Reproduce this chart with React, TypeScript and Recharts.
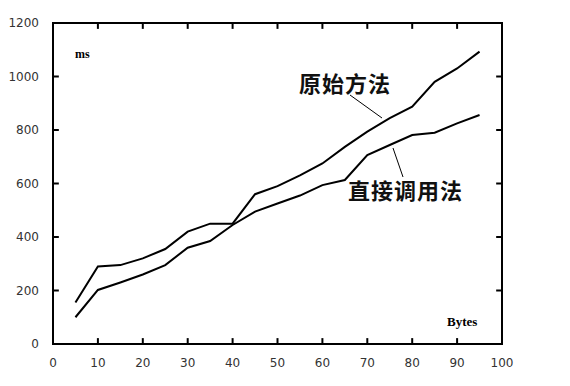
import { LineChart, Line, XAxis, YAxis, ReferenceArea, ReferenceLine, Customized } from 'recharts';

const bytes = [5, 10, 15, 20, 25, 30, 35, 40, 45, 50, 55, 60, 65, 70, 75, 80, 85, 90, 95];
const originalMs = [155, 290, 295, 320, 355, 420, 450, 450, 560, 590, 630, 675, 737, 794, 844, 887, 980, 1030, 1093];
const directMs = [100, 202, 230, 260, 295, 360, 385, 445, 495, 525, 555, 594, 613, 706, 744, 781, 790, 825, 856];
const xTicks = [0, 10, 20, 30, 40, 50, 60, 70, 80, 90, 100];
const yTicks = [0, 200, 400, 600, 800, 1000, 1200];

const data = bytes.map((b, i) => ({ b, orig: originalMs[i], direct: directMs[i] }));

const tickFont = { fontFamily: 'DejaVu Sans', fontSize: 12, fill: '#333' };

// tick mark length in data units (about 6px each way)
const xTickLen = 1.3;
const yTickLen = 22;

function labels() {
  const cjk = { fontFamily: 'Noto Sans CJK SC', fontSize: 22, fontWeight: 'bold', fill: '#111', letterSpacing: 1 };
  return (
    <g>
      <text x={75} y={58} fontFamily="Liberation Serif" fontSize={12} fontWeight="bold" fill="#000">ms</text>
      <text x={447} y={326} fontFamily="Liberation Serif" fontSize={13} fontWeight="bold" fill="#000">Bytes</text>
      <text x={299} y={92} {...cjk}>原始方法</text>
      <text x={348} y={199} {...cjk}>直接调用法</text>
      <line x1={350} y1={95} x2={382} y2={118} stroke="#000" strokeWidth={1} />
      <line x1={393} y1={148} x2={403} y2={177} stroke="#000" strokeWidth={1} />
    </g>
  );
}

export default function App() {
  const inner = xTicks.filter((t) => t > 0 && t < 100);
  const innerY = yTicks.filter((t) => t > 0 && t < 1200);
  return (
    <div style={{ margin: -8, width: 570, height: 386, background: '#fff' }}>
      <LineChart width={570} height={386} data={data} margin={{ top: 23, right: 68, bottom: 0, left: 0 }}>
        <XAxis dataKey="b" type="number" domain={[0, 100]} ticks={xTicks} interval={0}
          height={42} tickLine={false} tickMargin={8} stroke="#000" strokeWidth={2} tick={tickFont} />
        <YAxis type="number" domain={[0, 1200]} ticks={yTicks} interval={0}
          width={53} tickLine={false} tickMargin={8} stroke="#000" strokeWidth={2} tick={tickFont} />
        <ReferenceArea x1={0} x2={100} y1={0} y2={1200} fill="none" stroke="#000" strokeWidth={2} />
        {inner.map((t) => (
          <ReferenceLine key={'b' + t} segment={[{ x: t, y: 0 }, { x: t, y: yTickLen }]} stroke="#000" strokeWidth={2} />
        ))}
        {inner.map((t) => (
          <ReferenceLine key={'t' + t} segment={[{ x: t, y: 1200 }, { x: t, y: 1200 - yTickLen }]} stroke="#000" strokeWidth={2} />
        ))}
        {innerY.map((t) => (
          <ReferenceLine key={'l' + t} segment={[{ x: 0, y: t }, { x: xTickLen, y: t }]} stroke="#000" strokeWidth={2} />
        ))}
        {innerY.map((t) => (
          <ReferenceLine key={'r' + t} segment={[{ x: 100, y: t }, { x: 100 - xTickLen, y: t }]} stroke="#000" strokeWidth={2} />
        ))}
        <Line type="linear" dataKey="orig" stroke="#000" strokeWidth={2} dot={false} isAnimationActive={false} />
        <Line type="linear" dataKey="direct" stroke="#000" strokeWidth={2} dot={false} isAnimationActive={false} />
        <Customized component={labels} />
      </LineChart>
    </div>
  );
}
